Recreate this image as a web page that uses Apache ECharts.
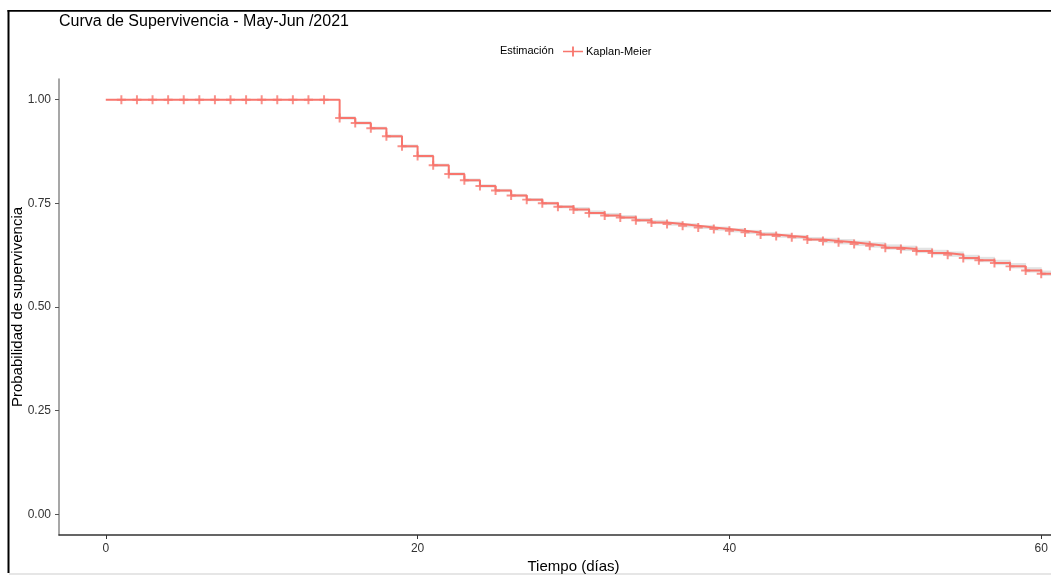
<!DOCTYPE html>
<html>
<head>
<meta charset="utf-8">
<title>Curva de Supervivencia - May-Jun /2021</title>
<script src="https://cdn.jsdelivr.net/npm/echarts@6/dist/echarts.min.js"></script>
<style>
  html, body { margin: 0; padding: 0; background: #fff; }
  #chart { width: 1051px; height: 575px; }
</style>
</head>
<body>
<div id="chart"></div>
<script>
// Days of follow-up and Kaplan-Meier survival estimate at each day
const days = [0, 1, 2, 3, 4, 5, 6, 7, 8, 9, 10, 11, 12, 13, 14, 15, 16, 17, 18, 19, 20,
  21, 22, 23, 24, 25, 26, 27, 28, 29, 30, 31, 32, 33, 34, 35, 36, 37, 38, 39, 40,
  41, 42, 43, 44, 45, 46, 47, 48, 49, 50, 51, 52, 53, 54, 55, 56, 57, 58, 59, 60, 61];
const survival = [1, 1, 1, 1, 1, 1, 1, 1, 1, 1, 1, 1, 1, 1, 1,
  0.956, 0.944, 0.931, 0.912, 0.888, 0.864, 0.842, 0.821, 0.806, 0.792,
  0.781, 0.769, 0.759, 0.750, 0.742, 0.735, 0.727, 0.721, 0.716, 0.709,
  0.704, 0.700, 0.696, 0.692, 0.688, 0.684, 0.680, 0.675, 0.671, 0.668,
  0.663, 0.659, 0.656, 0.652, 0.648, 0.643, 0.640, 0.635, 0.630, 0.626,
  0.618, 0.613, 0.606, 0.598, 0.588, 0.580, 0.580];
// 95% confidence band limits
const confLower = [1, 1, 1, 1, 1, 1, 1, 1, 1, 1, 1, 1, 1, 1, 1,
  0.952, 0.940, 0.927, 0.908, 0.884, 0.860, 0.838, 0.817, 0.802, 0.788,
  0.777, 0.765, 0.755, 0.746, 0.738, 0.731, 0.723, 0.717, 0.712, 0.705,
  0.700, 0.696, 0.692, 0.688, 0.684, 0.680, 0.676, 0.671, 0.667, 0.664,
  0.659, 0.654, 0.651, 0.647, 0.643, 0.638, 0.635, 0.630, 0.625, 0.621,
  0.613, 0.608, 0.601, 0.593, 0.583, 0.575, 0.575];
const confUpper = [1, 1, 1, 1, 1, 1, 1, 1, 1, 1, 1, 1, 1, 1, 1,
  0.960, 0.948, 0.935, 0.916, 0.892, 0.868, 0.846, 0.825, 0.810, 0.796,
  0.785, 0.773, 0.763, 0.754, 0.746, 0.741, 0.733, 0.727, 0.722, 0.715,
  0.710, 0.706, 0.702, 0.698, 0.694, 0.690, 0.686, 0.681, 0.677, 0.674,
  0.669, 0.667, 0.664, 0.660, 0.656, 0.651, 0.648, 0.643, 0.638, 0.634,
  0.626, 0.621, 0.614, 0.606, 0.596, 0.588, 0.588];
// Days with censored observations (marked with "+")
const censorDays = [1, 2, 3, 4, 5, 6, 7, 8, 9, 10, 11, 12, 13, 14, 15, 16, 17, 18, 19, 20,
  21, 22, 23, 24, 25, 26, 27, 28, 29, 30, 31, 32, 33, 34, 35, 36, 37, 38, 39, 40,
  41, 42, 43, 44, 45, 46, 47, 48, 49, 50, 51, 52, 53, 54, 55, 56, 57, 58, 59, 60];
const xTicks = [0, 20, 40, 60];
const yTicks = [0, 0.25, 0.5, 0.75, 1];

const RED = '#F8766D';
const FONT = '"Liberation Sans", Arial, sans-serif';
const PLUS = 'path://M0,3.9h10v2.2h-10z M3.9,0h2.2v10h-2.2z';

const survAt = d => survival[days.indexOf(d)];
const pairs = arr => days.map((d, i) => [d, arr[i]]);
// one band segment per interval between consecutive days: [start, end, lower, upper]
const bandSegments = days.slice(0, -1)
  .map((d, i) => [d, days[i + 1], confLower[i], confUpper[i]])
  .filter(s => s[3] > s[2]);

const chart = echarts.init(document.getElementById('chart'), null, { renderer: 'canvas' });

chart.setOption({
  animation: false,
  backgroundColor: '#fff',
  title: {
    text: 'Curva de Supervivencia - May-Jun /2021',
    left: 54, top: 9,
    textStyle: { fontFamily: FONT, fontSize: 16, fontWeight: 'normal', color: '#000' }
  },
  legend: {
    data: [{ name: 'Kaplan-Meier', icon: 'path://M0,4.2h20v1.6h-20z M9.1,0h1.8v10h-1.8z' }],
    left: 558, top: 41,
    itemWidth: 20, itemHeight: 10, itemGap: 4,
    textStyle: { fontFamily: FONT, fontSize: 11, color: '#000', padding: [0, 0, 0, -2] }
  },
  grid: {
    left: 59, right: -37, top: 79, bottom: 40,
    containLabel: false, outerBoundsMode: 'none'
  },
  xAxis: {
    type: 'value', min: -3, max: 63,
    name: 'Tiempo (días)', nameLocation: 'middle', nameGap: 24, nameMoveOverlap: false,
    nameTextStyle: { fontFamily: FONT, fontSize: 15, color: '#000' },
    axisLine: { show: true, onZero: false, lineStyle: { color: '#333', width: 1.5 } },
    axisTick: { show: true, length: 4, customValues: xTicks, lineStyle: { color: '#333' } },
    axisLabel: { customValues: xTicks, margin: 8, fontFamily: FONT, fontSize: 12, color: '#333' },
    splitLine: { show: false }
  },
  yAxis: {
    type: 'value', min: -0.05, max: 1.05,
    name: 'Probabilidad de supervivencia', nameLocation: 'middle', nameGap: 34, nameMoveOverlap: false,
    nameTextStyle: { fontFamily: FONT, fontSize: 15, color: '#000' },
    axisLine: { show: true, onZero: false, lineStyle: { color: '#8a8a8a', width: 1.5 } },
    axisTick: { show: true, length: 4, customValues: yTicks, lineStyle: { color: '#555' } },
    axisLabel: {
      customValues: yTicks, margin: 8, fontFamily: FONT, fontSize: 12, color: '#333',
      formatter: v => v.toFixed(2)
    },
    splitLine: { show: false }
  },
  series: [
    {
      name: 'ciBand', type: 'custom', silent: true, z: 1,
      data: bandSegments,
      encode: { x: [0, 1], y: [2, 3] },
      renderItem: (params, api) => {
        const p0 = api.coord([api.value(0), api.value(3)]);
        const p1 = api.coord([api.value(1), api.value(2)]);
        return {
          type: 'rect',
          shape: { x: p0[0], y: p0[1], width: p1[0] - p0[0] + 0.5, height: p1[1] - p0[1] },
          style: { fill: '#e3e3e3' }
        };
      }
    },
    {
      name: 'Kaplan-Meier', type: 'line', step: 'end',
      data: pairs(survival), symbol: 'none',
      itemStyle: { color: RED },
      lineStyle: { color: RED, width: 2 }, z: 3
    },
    {
      name: 'censor', type: 'scatter',
      data: censorDays.map(d => [d, survAt(d)]),
      symbol: PLUS, symbolSize: 9,
      itemStyle: { color: RED }, z: 4
    }
  ],
  graphic: [
    { type: 'text', left: 500, top: 45,
      style: { text: 'Estimación', font: '11px ' + FONT, fill: '#000' } },
    { type: 'rect', shape: { x: 7.5, y: 10, width: 2, height: 563 }, style: { fill: '#000' } },
    { type: 'rect', shape: { x: 7.5, y: 10, width: 1044, height: 1.8 }, style: { fill: '#000' } },
    { type: 'rect', shape: { x: 9, y: 573, width: 1042, height: 2 }, style: { fill: '#e6e6e6' } }
  ]
});
</script>
</body>
</html>
